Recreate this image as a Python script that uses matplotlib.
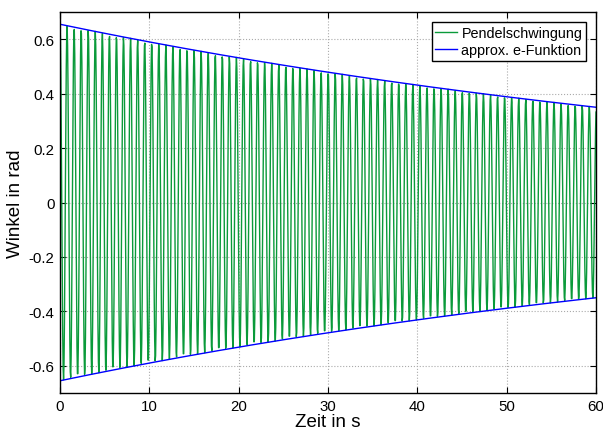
import numpy as np
import matplotlib
matplotlib.use("Agg")
import matplotlib.pyplot as plt

# parameters
amp0 = 0.655        # envelope at t=0
amp_end = 0.35      # envelope at t=60
t_end = 60.0
period = 0.79       # oscillation period in s
dt = 0.05           # sample step

decay = np.log(amp0 / amp_end) / t_end
t = np.arange(0, t_end + dt / 2, dt)
env = amp0 * np.exp(-decay * t)
swing = env * np.cos(2 * np.pi * t / period)

x_ticks = [0, 10, 20, 30, 40, 50, 60]
y_ticks = [-0.6, -0.4, -0.2, 0, 0.2, 0.4, 0.6]
y_ticklabels = ["-0.6", "-0.4", "-0.2", "0", "0.2", "0.4", "0.6"]

plt.rcParams['font.family'] = ['Liberation Sans', 'DejaVu Sans']

fig = plt.figure(figsize=(6.03, 4.31), dpi=100)
ax = fig.add_axes([60 / 603, 1 - 394 / 431, 536 / 603, 381 / 431])

ax.plot(t, swing, color='#0a9a3a', lw=1.0, label='Pendelschwingung')
ax.plot(t, env, color='#0000ff', lw=1.0, label='approx. e-Funktion')
ax.plot(t, -env, color='#0000ff', lw=1.0)

ax.set_xlim(0, 60)
ax.set_ylim(-0.7, 0.7)
ax.set_xticks(x_ticks)
ax.set_yticks(y_ticks)
ax.set_yticklabels(y_ticklabels)
ax.tick_params(direction='in', top=True, right=True, length=4, labelsize=10.8, width=0.8, pad=4)
ax.grid(True, linestyle=':', color='#aaaaaa', lw=0.8)
for s in ax.spines.values():
    s.set_linewidth(1.0)
ax.set_xlabel('Zeit in s', fontsize=13.5, labelpad=0)
ax.set_ylabel('Winkel in rad', fontsize=13.5, labelpad=3)

leg = ax.legend(loc='upper right', fontsize=10.4, fancybox=False, framealpha=1,
                edgecolor='black', handlelength=1.5, borderpad=0.25,
                labelspacing=0.25, handletextpad=0.3, borderaxespad=0.7)
leg.get_frame().set_linewidth(1.0)

fig.savefig('out.png', dpi=100)
